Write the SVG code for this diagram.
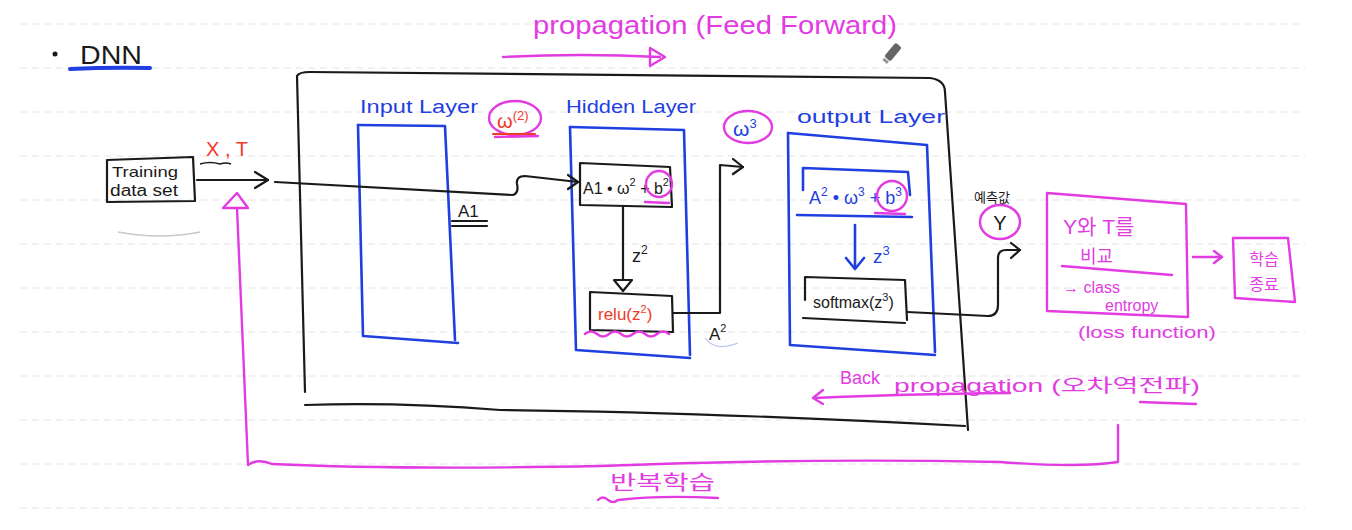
<svg xmlns="http://www.w3.org/2000/svg" width="1352" height="530" viewBox="0 0 1352 530">
<defs>
<style>
.t{font-family:"Liberation Sans","Noto Sans CJK KR",sans-serif}
.k{fill:#1a1a1a}
.b{fill:#1f3fe0}
.p{fill:#e23be2}
.r{fill:#f03a2a}
.sk{fill:none;stroke:#1a1a1a;stroke-width:2.2;stroke-linecap:round;stroke-linejoin:round}
.sb{fill:none;stroke:#1f3fe0;stroke-width:2.6;stroke-linecap:round;stroke-linejoin:round}
.sp{fill:none;stroke:#e23be2;stroke-width:2.4;stroke-linecap:round;stroke-linejoin:round}
.sr{fill:none;stroke:#f03a2a;stroke-width:2.2;stroke-linecap:round}
.grid{stroke:#e4e4e4;stroke-width:1;stroke-dasharray:7 5}
</style>
</defs>
<rect width="1352" height="530" fill="#ffffff"/>
<g id="grid">
<line class="grid" x1="20" y1="24" x2="1305" y2="24"/>
<line class="grid" x1="20" y1="68" x2="1305" y2="68"/>
<line class="grid" x1="20" y1="112" x2="1305" y2="112"/>
<line class="grid" x1="20" y1="156" x2="1305" y2="156"/>
<line class="grid" x1="20" y1="200" x2="1305" y2="200"/>
<line class="grid" x1="20" y1="244" x2="1305" y2="244"/>
<line class="grid" x1="20" y1="288" x2="1305" y2="288"/>
<line class="grid" x1="20" y1="332" x2="1305" y2="332"/>
<line class="grid" x1="20" y1="376" x2="1305" y2="376"/>
<line class="grid" x1="20" y1="420" x2="1305" y2="420"/>
<line class="grid" x1="20" y1="464" x2="1305" y2="464"/>
<line class="grid" x1="20" y1="508" x2="1305" y2="508"/>
</g>

<g id="title">
<circle cx="55" cy="54" r="2.5" fill="#1a1a1a"/>
<text class="t k" x="80" y="64" font-size="26" textLength="62" lengthAdjust="spacingAndGlyphs">DNN</text>
<path d="M70,69 Q110,67 150,68" fill="none" stroke="#1f3fe0" stroke-width="4" stroke-linecap="round"/>
</g>

<g id="feed-forward-label">
<text class="t p" x="533" y="34" font-size="26" textLength="364" lengthAdjust="spacingAndGlyphs">propagation (Feed Forward)</text>
<path class="sp" d="M503,57 Q580,53 660,57"/>
<path class="sp" d="M650,48 L665,57 L650,66 Z"/>
<g transform="translate(893,52) rotate(40)">
<rect x="-4" y="-9" width="8" height="18" rx="2" fill="#666"/>
<rect x="-3" y="10" width="6" height="3" fill="#999"/>
</g>
</g>

<g id="training-data">
<path class="sk" d="M107,160 L193,157 L195,201 L107,202 Z"/>
<text class="t k" x="112" y="177" font-size="15" textLength="66" lengthAdjust="spacingAndGlyphs">Training</text>
<text class="t k" x="110" y="196" font-size="16" textLength="68" lengthAdjust="spacingAndGlyphs">data set</text>
<path d="M118,232 Q160,240 200,232" fill="none" stroke="#c8c8c8" stroke-width="1.5"/>
</g>

<g id="xt-label">
<text class="t r" x="206" y="156" font-size="20">X , T</text>
<path d="M200,164 Q210,161 220,164 Q226,162 231,164" fill="none" stroke="#1a1a1a" stroke-width="1.5"/>
</g>

<g id="frame">
<path class="sk" d="M297,76 Q299,72 310,72 L930,78 Q945,80 945,92 L968,430"/>
<path class="sk" d="M297,76 L305,392"/>
<path class="sk" d="M305,405 Q400,402 500,410 Q700,412 965,426"/>
</g>

<g id="input-layer">
<text class="t b" x="360" y="113" font-size="18" textLength="118" lengthAdjust="spacingAndGlyphs">Input Layer</text>
<path class="sb" d="M358,125 L445,126 L455,340"/>
<path class="sb" d="M358,125 L363,336 L458,343"/>
</g>

<g id="w2">
<ellipse cx="515" cy="118" rx="26" ry="17" class="sp"/>
<text class="t r" x="497" y="128" font-size="20">ω<tspan font-size="13" dy="-8">(2)</tspan></text>
<path class="sr" d="M493,134 L535,134"/>
<path class="sp" d="M495,137 L538,136" stroke-width="1.5"/>
</g>

<g id="hidden-layer">
<text class="t b" x="566" y="113" font-size="18" textLength="130" lengthAdjust="spacingAndGlyphs">Hidden Layer</text>
<path class="sb" d="M570,127 L684,130 L690,355"/>
<path class="sb" d="M570,127 L576,350 L690,358"/>
</g>

<g id="box-a1">
<path class="sk" d="M580,163 L670,167 L672,207 L580,205 Z"/>
<text class="t k" x="583" y="194" font-size="16">A1 • ω<tspan font-size="11" dy="-8">2</tspan><tspan dy="8"> + b</tspan><tspan font-size="11" dy="-8">2</tspan></text>
<circle cx="659" cy="184" r="13" class="sp" stroke-width="1.8"/>
<path class="sp" d="M645,202 L669,203"/>
</g>

<g id="box-relu">
<path class="sk" d="M590,292 L672,296 L673,332 L590,330 Z"/>
<text class="t r" x="598" y="320" font-size="17">relu(z<tspan font-size="11" dy="-7">2</tspan><tspan dy="7">)</tspan></text>
<path class="sp" d="M585,334 q6,-5 12,0 q6,5 12,0 q6,-5 12,0 q6,5 12,0 q6,-5 12,0 q6,5 12,0 q6,-5 12,0" stroke-width="2"/>
</g>

<g id="w3">
<ellipse cx="748" cy="127" rx="24" ry="16" class="sp" stroke-width="3"/>
<text class="t b" x="733" y="136" font-size="21">ω<tspan font-size="13" dy="-8">3</tspan></text>
</g>

<g id="output-layer">
<text class="t b" x="797" y="123" font-size="18" textLength="148" lengthAdjust="spacingAndGlyphs">output Layer</text>
<path class="sb" d="M788,133 L927,145 L935,352"/>
<path class="sb" d="M788,133 L790,345 L935,355"/>
</g>

<g id="box-a2">
<path class="sb" d="M803,190 L803,168 L908,172 L910,195"/>
<path class="sb" d="M797,215 L912,217"/>
<text class="t b" x="809" y="204" font-size="18">A<tspan font-size="12" dy="-8">2</tspan><tspan dy="8"> • ω</tspan><tspan font-size="12" dy="-8">3</tspan><tspan dy="8"> + b</tspan><tspan font-size="12" dy="-8">3</tspan></text>
<circle cx="892" cy="196" r="15" class="sp" stroke-width="1.8"/>
<path class="sp" d="M875,213 L905,214"/>
</g>

<g id="box-softmax">
<path class="sk" d="M805,300 L805,277 L905,280 L907,320"/>
<path class="sk" d="M803,318 L905,323"/>
<text class="t k" x="813" y="308" font-size="16">softmax(z<tspan font-size="11" dy="-7">3</tspan><tspan dy="7">)</tspan></text>
</g>

<g id="y-node">
<text class="t k" x="992" y="202" font-size="13" text-anchor="middle">예측값</text>
<ellipse cx="1000" cy="222" rx="20" ry="17" class="sp" stroke-width="3"/>
<text class="t k" x="1000" y="230" font-size="20" text-anchor="middle">Y</text>
</g>

<g id="compare-box">
<path class="sp" d="M1047,193 L1186,204 L1188,317 L1047,311 Z"/>
<text class="t p" x="1063" y="234" font-size="21">Y와 T를</text>
<text class="t p" x="1080" y="263" font-size="18">비교</text>
<path class="sp" d="M1062,266 L1172,275"/>
<text class="t p" x="1063" y="293" font-size="16">→ class</text>
<text class="t p" x="1105" y="311" font-size="16">entropy</text>
<text class="t p" x="1078" y="338" font-size="16" textLength="138" lengthAdjust="spacingAndGlyphs">(loss function)</text>
</g>

<g id="end-box">
<path class="sp" d="M1233,238 L1288,238 L1295,302 L1235,298 Z"/>
<text class="t p" x="1264" y="265" font-size="16" text-anchor="middle">학습</text>
<text class="t p" x="1264" y="290" font-size="16" text-anchor="middle">종료</text>
</g>

<g id="backprop-label">
<text class="t p" x="840" y="384" font-size="18">Back</text>
<text class="t p" x="894" y="392" font-size="18" textLength="306" lengthAdjust="spacingAndGlyphs">propagation (오차역전파)</text>
<path class="sp" d="M1010,393 Q900,394 815,398"/>
<path class="sp" d="M823,390 L813,398 L823,404"/>
<path class="sp" d="M1140,402 L1196,404" stroke-width="1.6"/>
</g>

<g id="repeat-label">
<text class="t p" x="610" y="490" font-size="20" textLength="105" lengthAdjust="spacingAndGlyphs">반복학습</text>
<path class="sp" d="M598,500 q5,-5 10,0 q5,4 10,0 Q660,495 718,498" stroke-width="2"/>
</g>

<g id="connectors">
<path class="sk" d="M197,180 L268,180"/>
<path class="sk" d="M255,172 L268,180 L255,188"/>
<path class="sk" d="M275,182 L513,195 Q519,193 517,184 Q516,176 525,176 L578,182"/>
<path class="sk" d="M568,175 L578,182 L568,189"/>
<text class="t k" x="458" y="217" font-size="17">A1</text>
<path class="sk" d="M452,221 L487,221 M452,226 L487,226" stroke-width="1.6"/>
<path class="sk" d="M623,207 L623,280"/>
<path class="sk" d="M614,280 L632,280 L623,291 Z"/>
<text class="t k" x="632" y="262" font-size="18">z<tspan font-size="12" dy="-8">2</tspan></text>
<path class="sk" d="M673,313 L720,313 L720,165 L743,167"/>
<path class="sk" d="M733,159 L743,167 L733,174"/>
<text class="t k" x="709" y="340" font-size="17">A<tspan font-size="11" dy="-8">2</tspan></text>
<path d="M705,338 Q715,352 738,343" fill="none" stroke="#b8c0e8" stroke-width="1.2"/>
<path class="sb" d="M855,225 L855,268"/>
<path class="sb" d="M846,258 L855,269 L864,258"/>
<text class="t b" x="873" y="263" font-size="19">z<tspan font-size="13" dy="-8">3</tspan></text>
<path class="sk" d="M907,312 L988,316 Q998,316 998,305 L998,258 Q998,250 1006,250 L1020,250"/>
<path class="sk" d="M1011,243 L1020,250 L1011,258"/>
<path class="sp" d="M1193,257 L1222,257"/>
<path class="sp" d="M1214,251 L1222,257 L1214,263"/>
<path class="sp" d="M223,208 L237,193 L248,208 Z"/>
<path class="sp" d="M237,208 L248,465 Q258,458 272,464 Q400,470 600,466 Q800,458 1000,462 Q1080,468 1118,462 L1118,425"/>
</g>
</svg>
